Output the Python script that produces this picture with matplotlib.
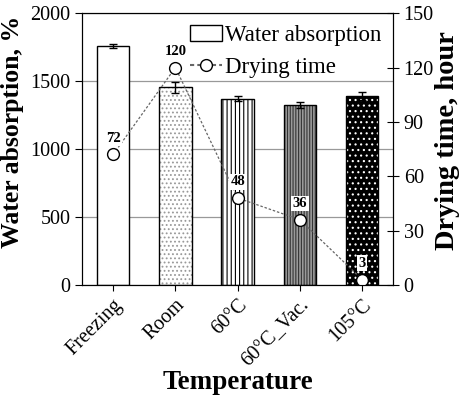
import matplotlib.pyplot as plt
from matplotlib.lines import Line2D
from matplotlib.patches import Patch

plt.rcParams['font.family'] = ['Liberation Serif', 'DejaVu Serif']
plt.rcParams['hatch.linewidth'] = 0.8

categories = ["Freezing", "Room", "60\u00b0C", "60\u00b0C_Vac.", "105\u00b0C"]
absorption = [1755, 1455, 1370, 1325, 1390]
absorption_err = [15, 40, 20, 22, 30]
drying_time = [72, 120, 48, 36, 3]

fig = plt.figure(figsize=(4.61, 3.98), dpi=100)
ax = fig.add_axes([0.178, 0.284, 0.675, 0.683])
x = list(range(len(categories)))

ax.set_axisbelow(True)
ax.grid(True, axis='y', color='#999999', linewidth=0.9)

# bar styles: (face, hatch colour, hatch)
styles = [('white', 'black', None),
          ('white', '#999999', '....'),
          ('white', 'black', '||||'),
          ('#9a9a9a', '#333333', '||||||'),
          ('black', 'white', '...')]
for i, (fc, hc, h) in enumerate(styles):
    ax.bar(x[i], absorption[i], width=0.52, color=fc, edgecolor=hc, hatch=h, linewidth=0)
    ax.bar(x[i], absorption[i], width=0.52, fill=False, edgecolor='black', linewidth=1.0)
ax.errorbar(x, absorption, yerr=absorption_err, fmt='none', ecolor='black',
            elinewidth=1, capsize=3, capthick=1)

ax.set_xlim(-0.5, 4.5)
ax.set_ylim(0, 2000)
ax.set_yticks([0, 500, 1000, 1500, 2000])
ax.set_xticks(x)
ax.set_xticklabels(categories, rotation=45, ha='right', rotation_mode='anchor', fontsize=14.5)
ax.tick_params(axis='x', direction='inout', length=8, labelsize=14.5)
ax.tick_params(axis='y', direction='out', length=5, labelsize=14.5)
ax.set_ylabel("Water absorption, %", fontsize=18.5, fontweight='bold')
ax.yaxis.set_label_coords(-0.185, 0.5625)
ax.set_xlabel("Temperature", fontsize=19.5, fontweight='bold', labelpad=0)

ax2 = ax.twinx()
ax2.plot(x, drying_time, linestyle=(0, (2, 1.5)), color='#666666', linewidth=0.9,
         marker='o', markersize=8.5, markerfacecolor='white', markeredgecolor='black',
         markeredgewidth=1.0)
for xi, v in zip(x, drying_time):
    ax2.annotate(str(v), (xi, v), xytext=(0, 7), textcoords='offset points',
                 ha='center', va='bottom', fontsize=10.5, fontweight='bold',
                 bbox=dict(facecolor='white', edgecolor='none', pad=1))
ax2.set_ylim(0, 150)
ax2.set_yticks([0, 30, 60, 90, 120, 150])
ax2.tick_params(axis='y', direction='inout', length=8, labelsize=14.5)
ax2.set_ylabel("Drying time, hour", fontsize=20.5, fontweight='bold')
ax2.yaxis.set_label_coords(1.135, 0.53)

handles = [Patch(facecolor='white', edgecolor='black', linewidth=1.0),
           Line2D([], [], linestyle=(0, (2, 1.5)), color='#666666', marker='o',
                  markersize=8.5, markerfacecolor='white', markeredgecolor='black')]
ax2.legend(handles, ["Water absorption", "Drying time"], loc='upper right',
           frameon=False, fontsize=16.5, handlelength=1.4, handletextpad=0.15,
           borderaxespad=0.1, labelspacing=0.5)

fig.savefig("out.png", dpi=100)
